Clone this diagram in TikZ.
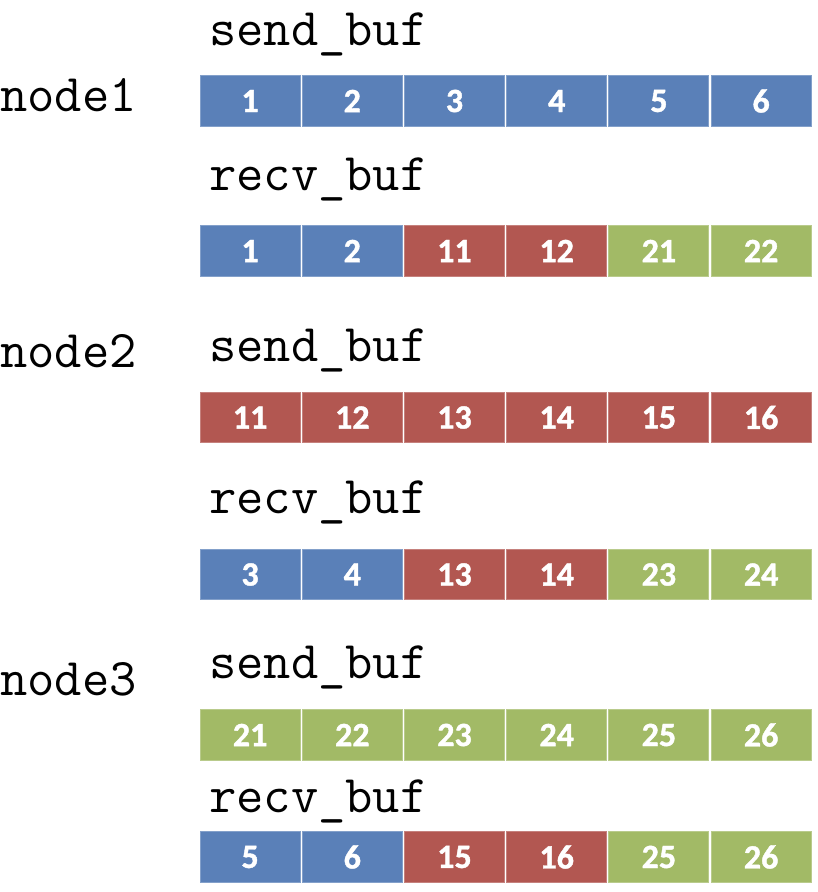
\documentclass[tikz,border=0pt]{standalone}
\usepackage{fontspec}
\newfontfamily\numfont{Carlito}[BoldFeatures={FakeBold=1.2}]
\definecolor{cb}{HTML}{5A80B8}
\definecolor{cr}{HTML}{B25751}
\definecolor{cg}{HTML}{A2BA66}
\begin{document}
\begin{tikzpicture}[x=1pt,y=-1pt,
  lab/.style={anchor=base west, inner sep=0pt, font=\fontsize{53}{53}\selectfont\ttfamily},
  cell/.style={minimum width=100pt, minimum height=50.5pt, inner sep=0pt, line width=1pt,
    text=white, font=\fontsize{34}{34}\selectfont\numfont\bfseries}]
\useasboundingbox[fill=white] (0,0) rectangle (818,892);
% labels
\node[lab] (n1) at (0,111) {node1};
\node[lab] (n2) at (0,367) {node2};
\node[lab] (n3) at (0,695) {node3};
\node[lab] (s1) at (209,45) {send\_buf};
\node[lab] (v1) at (209,190) {recv\_buf};
\node[lab] (s2) at (209,361) {send\_buf};
\node[lab] (v2) at (209,513) {recv\_buf};
\node[lab] (s3) at (209,678) {send\_buf};
\node[lab] (v3) at (209,812) {recv\_buf};
% rows
\foreach \r/\y/\cells in {
  1/101/{cb/1,cb/2,cb/3,cb/4,cb/5,cb/6},
  2/251/{cb/1,cb/2,cr/11,cr/12,cg/21,cg/22},
  3/417.5/{cr/11,cr/12,cr/13,cr/14,cr/15,cr/16},
  4/574.5/{cb/3,cb/4,cr/13,cr/14,cg/23,cg/24},
  5/735/{cg/21,cg/22,cg/23,cg/24,cg/25,cg/26},
  6/857/{cb/5,cb/6,cr/15,cr/16,cg/25,cg/26}}{
  \foreach \c/\n [count=\i from 0] in \cells {
    \node[cell, fill=\c, draw=\c!75!white] (r\r c\i) at ({250.1+102.2*\i},\y) {\n};
  }
}
\end{tikzpicture}
\end{document}
